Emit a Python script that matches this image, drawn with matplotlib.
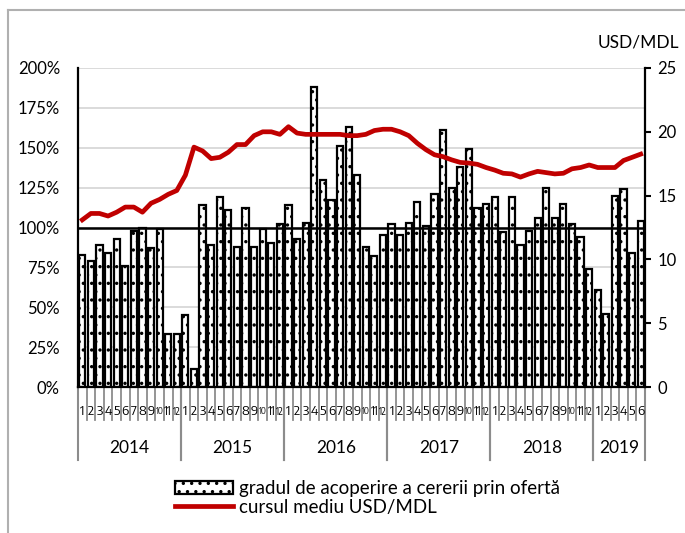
import matplotlib
matplotlib.use("Agg")
import matplotlib.pyplot as plt
from matplotlib.patches import Rectangle
from matplotlib.lines import Line2D
from matplotlib import font_manager as fm
import matplotlib.transforms as mtransforms

plt.rcParams['font.family'] = ['Lato', 'DejaVu Sans']
plt.rcParams['hatch.linewidth'] = 1.2

# ---------------- data ----------------
years = ['2014', '2015', '2016', '2017', '2018', '2019']
months_per_year = [12, 12, 12, 12, 12, 6]
month_labels = [str(m) for m in range(1, 13)] * 5 + [str(m) for m in range(1, 7)]

coverage = [83, 79, 89, 84, 93, 76, 98, 100, 87, 99, 33, 33,
            45, 11, 114, 89, 119, 111, 88, 112, 88, 99, 90, 102,
            114, 93, 103, 188, 130, 117, 151, 163, 133, 88, 82, 95,
            102, 95, 103, 116, 101, 121, 161, 125, 138, 149, 112, 115,
            119, 97, 119, 89, 98, 106, 125, 106, 115, 102, 94, 74,
            61, 46, 120, 124, 84, 104]

usd_mdl = [13.1, 13.6, 13.6, 13.4, 13.7, 14.1, 14.1, 13.7, 14.4, 14.7, 15.1, 15.4,
           16.6, 18.8, 18.5, 17.9, 18.0, 18.4, 19.0, 19.0, 19.7, 20.0, 20.0, 19.8,
           20.4, 19.9, 19.8, 19.8, 19.8, 19.8, 19.8, 19.7, 19.7, 19.8, 20.1, 20.2,
           20.2, 20.0, 19.7, 19.1, 18.6, 18.2, 18.05, 17.8, 17.6, 17.55, 17.45, 17.2,
           17.0, 16.75, 16.7, 16.45, 16.7, 16.9, 16.8, 16.7, 16.75, 17.1, 17.2, 17.4,
           17.2, 17.2, 17.2, 17.75, 18.0, 18.25]

left_ticks = [0, 25, 50, 75, 100, 125, 150, 175, 200]
right_ticks = [0, 5, 10, 15, 20, 25]

label_bars = 'gradul de acoperire a cererii prin ofertă'
label_line = 'cursul mediu USD/MDL'

# ---------------- narrow font for month labels (if any installed) ----------------
def pick_narrow():
    best = None
    for f in fm.fontManager.ttflist:
        nm = f.name + ' ' + str(f.fname)
        is_narrow = ('Condensed' in nm or 'Narrow' in nm or
                     f.stretch in ('condensed', 'semi-condensed', 'extra-condensed',
                                   'ultra-condensed'))
        if not is_narrow or f.style != 'normal':
            continue
        if f.weight not in (400, 'normal', 'regular', 'book'):
            continue
        if 'Mono' in nm or 'Serif' in nm or 'CJK' in nm:
            continue
        score = 0
        if 'Sans' in f.name:
            score += 2
        if 'Semi' in nm or 'semi' in str(f.stretch):
            score += 1
        if best is None or score > best[0]:
            best = (score, f.fname)
    if best is None:
        return fm.FontProperties(family=['Lato', 'DejaVu Sans'])
    return fm.FontProperties(fname=best[1])

narrow_fp = pick_narrow()

# ---------------- figure ----------------
W, H = 685, 533
fig = plt.figure(figsize=(W / 100, H / 100), dpi=100)
ax = fig.add_axes([78 / W, 1 - 387 / H, (645 - 78) / W, (387 - 68) / H])

x = list(range(len(coverage)))
ax.bar(x, coverage, width=0.72, facecolor='white', edgecolor='black',
       linewidth=1.6, hatch='..', zorder=2)
ax.axhline(100, color='black', linewidth=1.8, zorder=4)

ax.set_xlim(-0.5, len(coverage) - 0.5)
ax.set_ylim(0, 200)
ax.set_yticks(left_ticks)
ax.set_yticklabels([f'{t}%' for t in left_ticks], fontsize=12)
ax.tick_params(axis='y', length=0, pad=13)
ax.grid(axis='y', color='#d4d4d4', linewidth=1.2, zorder=0)
ax.set_axisbelow(True)
ax.set_xticks([])

ax.spines['top'].set_visible(False)
ax.spines['right'].set_visible(False)
ax.spines['left'].set_linewidth(1.6)
ax.spines['bottom'].set_linewidth(1.6)

# month labels and month / year separators below axis
trans = mtransforms.blended_transform_factory(ax.transData, ax.transAxes)
cell_px = (645 - 78) / len(coverage)
month_texts = []
for i, lab in enumerate(month_labels):
    fp = narrow_fp.copy()
    fp.set_size(9.5)
    t = ax.text(i, -0.078, lab, transform=trans, ha='center', va='center',
                fontproperties=fp)
    month_texts.append(t)

fig.canvas.draw()
renderer = fig.canvas.get_renderer()
for t in month_texts:
    size = t.get_fontsize()
    while t.get_window_extent(renderer).width > cell_px - 0.6 and size > 4:
        size -= 0.2
        t.set_fontsize(size)

for i in range(len(coverage) + 1):
    ax.plot([i - 0.5, i - 0.5], [0, -0.105], transform=trans, color='#8c8c8c',
            linewidth=1.3, clip_on=False, zorder=1)
start = 0
for yr, n in zip(years, months_per_year):
    for b in (start, start + n):
        ax.plot([b - 0.5, b - 0.5], [0, -0.23], transform=trans, color='#8c8c8c',
                linewidth=1.5, clip_on=False, zorder=1)
    ax.text(start + (n - 1) / 2, -0.19, yr, transform=trans, ha='center',
            va='center', fontsize=12.5)
    start += n

# right axis
ax2 = ax.twinx()
ax2.plot(x, usd_mdl, color='#C00000', linewidth=3.4, zorder=5)
ax2.set_ylim(0, 25)
ax2.set_yticks(right_ticks)
ax2.set_yticklabels([str(t) for t in right_ticks], fontsize=12)
ax2.tick_params(axis='y', direction='out', length=4, width=1.5, pad=5)
for s in ['top', 'left', 'bottom']:
    ax2.spines[s].set_visible(False)
ax2.spines['right'].set_linewidth(1.6)
ax2.text(1.06, 1.08, 'USD/MDL', transform=ax2.transAxes, ha='right',
         va='center', fontsize=12.5)

# legend
h_bar = Rectangle((0, 0), 1, 1, facecolor='white', edgecolor='black',
                  linewidth=1.6, hatch='..')
h_line = Line2D([0], [0], color='#C00000', linewidth=3.4)
fig.legend([h_bar, h_line], [label_bars, label_line], loc='upper left',
           bbox_to_anchor=(158 / W, 1 - 463 / H), frameon=False, fontsize=13.5,
           handlelength=3.1, handletextpad=0.3, labelspacing=0.1,
           handleheight=0.7)

# outer frame (left and top)
fig.add_artist(Line2D([8 / W, 8 / W], [0, 1 - 10 / H], transform=fig.transFigure,
                      color='#b0b0b0', linewidth=1.5))
fig.add_artist(Line2D([8 / W, 1], [1 - 10 / H, 1 - 10 / H], transform=fig.transFigure,
                      color='#b0b0b0', linewidth=1.5))

fig.savefig('out.png', dpi=100)
